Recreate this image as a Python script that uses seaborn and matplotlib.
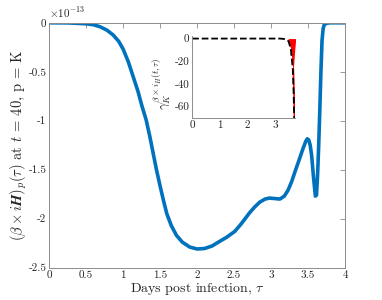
import numpy as np
import matplotlib
matplotlib.use('Agg')
import matplotlib.pyplot as plt
import seaborn as sns

# main curve, values in units of 1e-13
tau = [0, 0.25, 0.5, 0.6, 0.685, 0.78, 0.865, 0.94, 1.0, 1.07, 1.135, 1.2, 1.25,
       1.31, 1.36, 1.405, 1.45, 1.5, 1.55, 1.59, 1.65, 1.72, 1.8, 1.9, 2.0, 2.1,
       2.2, 2.31, 2.4, 2.51, 2.6, 2.71, 2.78, 2.85, 2.92, 2.98, 3.05, 3.12, 3.18,
       3.23, 3.28, 3.32, 3.38, 3.43, 3.47, 3.49, 3.51, 3.53, 3.55, 3.575, 3.6,
       3.615, 3.63, 3.645, 3.66, 3.675, 3.69, 3.705, 3.72, 3.75, 3.8, 4.0]
beta_ih = [0, -0.001, -0.01, -0.02, -0.04, -0.075, -0.125, -0.19, -0.27, -0.4,
           -0.55, -0.7, -0.84, -0.99, -1.16, -1.33, -1.5, -1.67, -1.83, -1.95,
           -2.07, -2.17, -2.24, -2.29, -2.31, -2.305, -2.28, -2.23, -2.19, -2.13,
           -2.05, -1.94, -1.88, -1.83, -1.80, -1.79, -1.795, -1.80, -1.77, -1.71,
           -1.62, -1.53, -1.40, -1.29, -1.21, -1.185, -1.195, -1.25, -1.36, -1.58,
           -1.77, -1.76, -1.55, -1.25, -0.89, -0.5, -0.18, -0.06, -0.02, -0.005, 0, 0]

# inset: gamma_K
tau_in = [0, 1, 2, 3, 3.17, 3.3, 3.4, 3.48, 3.56, 3.63, 3.66, 3.68]
gamma_k = [0, 0, 0, 0, 0, -0.3, -1.0, -2.4, -9.7, -27, -48, -70]
red_lev = [0, -2.4, -9.7, -27]
red_left = [3.46, 3.48, 3.56, 3.63]
red_right = [3.74, 3.73, 3.70, 3.65]
red_tau = [3.65, 3.675, 3.69]
red_gam = [-27, -48, -70]

sns.set_style('white')
plt.rcParams['font.family'] = 'serif'
plt.rcParams['font.serif'] = ['cmr10']
plt.rcParams['mathtext.fontset'] = 'cm'
plt.rcParams['axes.unicode_minus'] = False
plt.rcParams['axes.formatter.use_mathtext'] = True

blue = '#0072BD'
grey = '#8c8c8c'

fig = plt.figure(figsize=(3.82, 3.0), dpi=100)
ax = fig.add_axes([0.129, 0.108, 0.774, 0.816])
sns.lineplot(x=tau, y=beta_ih, ax=ax, color=blue, linewidth=2.6, sort=False)
ax.set_xlim(0, 4)
ax.set_ylim(-2.5, 0)
ax.set_xticks(np.arange(0, 4.01, 0.5))
ax.set_yticks([-2.5, -2, -1.5, -1, -0.5, 0])
ax.set_xticklabels(['0', '0.5', '1', '1.5', '2', '2.5', '3', '3.5', '4'])
ax.set_yticklabels(['-2.5', '-2', '-1.5', '-1', '-0.5', '0'])
ax.tick_params(direction='in', top=True, right=True, length=3.5, width=0.6,
               color=grey, labelsize=8, pad=2, labelcolor='#222222')
for s in ax.spines.values():
    s.set_color(grey)
    s.set_linewidth(0.7)
ax.set_xlabel(r'Days post infection, $\tau$', fontsize=10, labelpad=1)
ax.set_ylabel(r'$(\beta\times i\boldsymbol{H})_p(\tau)$ at $t$ = 40, p = K',
              fontsize=10.5, labelpad=0)
ax.text(0.0, 1.012, r'$\times10^{-13}$', transform=ax.transAxes, fontsize=8,
        ha='left', va='bottom', color='#222222')

# inset
ins = fig.add_axes([0.503, 0.607, 0.270, 0.272])
ins.fill_betweenx(red_lev, red_left, red_right, color='red', linewidth=0)
ins.plot(red_tau, red_gam, color='red', linewidth=1.2)
sns.lineplot(x=tau_in, y=gamma_k, ax=ins, color='black', linewidth=1.3,
             linestyle='--', sort=False)
ins.set_xlim(0, 3.72)
ins.set_ylim(-70, 2)
ins.set_xticks([0, 1, 2, 3])
ins.set_yticks([-60, -40, -20, 0])
ins.set_xticklabels(['0', '1', '2', '3'])
ins.set_yticklabels(['-60', '-40', '-20', '0'])
ins.tick_params(direction='in', length=3, width=0.6, color=grey, labelsize=8,
                pad=2, labelcolor='#222222')
for k in ['top', 'right']:
    ins.spines[k].set_visible(False)
for k in ['left', 'bottom']:
    ins.spines[k].set_color(grey)
    ins.spines[k].set_linewidth(0.7)
ins.set_ylabel(r'$\gamma_K^{\beta\times i_H(t,\tau)}$', fontsize=9.5, labelpad=0)
ins.yaxis.set_label_coords(-0.2, 0.42)
ins.patch.set_alpha(0)

fig.savefig('out.png', dpi=100)
